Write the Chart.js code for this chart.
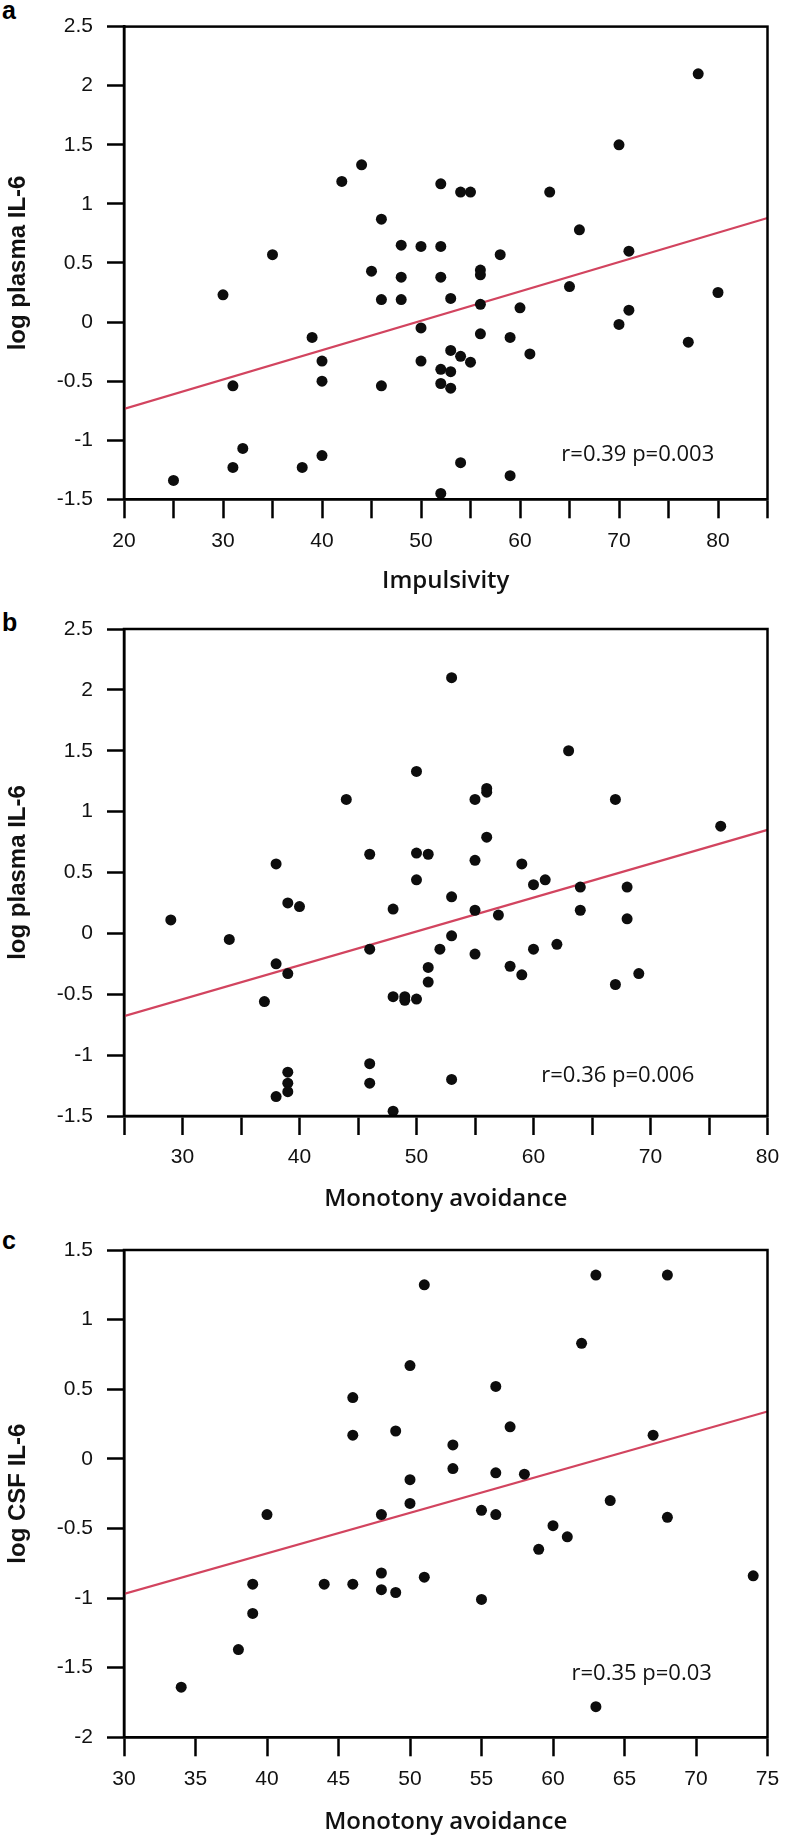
<!DOCTYPE html>
<html>
<head>
<meta charset="utf-8">
<script src="https://cdn.jsdelivr.net/npm/chart.js@4.4.1/dist/chart.umd.min.js"></script>
<style>
  body { margin: 0; background: #fff; width: 792px; height: 1841px; position: relative; overflow: hidden; }
  .wrap { position: absolute; left: 0; width: 792px; }
  .tag { position: absolute; left: 2px; font: bold 25px "Liberation Sans", Arial, sans-serif; line-height: 1; color: #000; }
</style>
</head>
<body>
<div class="tag" style="top:-2px">a</div>
<div class="tag" style="top:610px">b</div>
<div class="tag" style="top:1228px">c</div>
<div class="wrap" style="top:0;height:596px"><canvas id="ca"></canvas></div>
<div class="wrap" style="top:600px;height:614px"><canvas id="cb"></canvas></div>
<div class="wrap" style="top:1220px;height:617px"><canvas id="cc"></canvas></div>
<script>
// panel a: impulsivity vs log plasma IL-6
const aX = [78, 70, 44, 42, 52, 54, 55, 63, 46, 66, 48, 50, 52, 35, 58, 71, 45, 56, 56, 48, 52, 65, 80, 30,
  46, 48, 53, 56, 60, 71, 50, 56, 70, 77, 39, 59, 53, 54, 55, 61, 40, 50, 52, 53, 40, 52, 53, 31, 46,
  32, 31, 38, 40, 54, 59, 25, 52];
const aY = [2.1, 1.5, 1.33, 1.19, 1.17, 1.1, 1.1, 1.1, 0.87, 0.78, 0.65, 0.64, 0.64, 0.57, 0.57, 0.6, 0.43, 0.44, 0.4, 0.38, 0.38, 0.3, 0.25, 0.23,
  0.19, 0.19, 0.2, 0.15, 0.12, 0.1, -0.05, -0.1, -0.02, -0.17, -0.13, -0.13, -0.24, -0.29, -0.34, -0.27, -0.33, -0.33, -0.4, -0.42, -0.5, -0.52, -0.56, -0.54, -0.54,
  -1.07, -1.23, -1.23, -1.13, -1.19, -1.3, -1.34, -1.45];
const aFitX = [20, 85];
const aFitY = [-0.735, 0.88];
const aStat = 'r=0.39 p=0.003';
const aStatAt = [71.9, -1.12];

// panel b: monotony avoidance vs log plasma IL-6
const bX = [53, 63, 50, 44, 55, 56, 56, 67, 76, 56, 46, 50, 51, 38, 55, 59, 50, 60, 61, 64, 68,
  39, 40, 29, 48, 53, 55, 57, 64, 68, 34, 53, 62, 46, 52, 60, 55, 38, 39, 51, 58, 59, 69, 51, 67,
  37, 48, 49, 49, 50, 46, 46, 39, 39, 39, 38, 53, 48];
const bY = [2.1, 1.5, 1.33, 1.1, 1.1, 1.19, 1.16, 1.1, 0.88, 0.79, 0.65, 0.66, 0.65, 0.57, 0.6, 0.57, 0.44, 0.4, 0.44, 0.38, 0.38,
  0.25, 0.22, 0.11, 0.2, 0.3, 0.19, 0.15, 0.19, 0.12, -0.05, -0.02, -0.09, -0.13, -0.13, -0.13, -0.17, -0.25, -0.33, -0.28, -0.27, -0.34, -0.33, -0.4, -0.42,
  -0.56, -0.52, -0.52, -0.55, -0.54, -1.07, -1.23, -1.14, -1.23, -1.3, -1.34, -1.2, -1.46];
const bFitX = [25, 80];
const bFitY = [-0.68, 0.85];
const bStat = 'r=0.36 p=0.006';
const bStatAt = [67.2, -1.17];

// panel c: monotony avoidance vs log CSF IL-6
const cX = [63, 68, 51, 62, 50, 56, 46, 46, 49, 57, 67, 53, 53, 56, 58, 50, 50, 64, 40, 48, 55, 56, 68,
  60, 61, 59, 74, 44, 46, 39, 48, 48, 49, 51, 55, 39, 38, 34, 63];
const cY = [1.32, 1.32, 1.25, 0.83, 0.67, 0.52, 0.44, 0.17, 0.2, 0.23, 0.17, 0.1, -0.07, -0.1, -0.11, -0.15, -0.32, -0.3, -0.4, -0.4, -0.37, -0.4, -0.42,
  -0.48, -0.56, -0.65, -0.84, -0.9, -0.9, -0.9, -0.82, -0.94, -0.96, -0.85, -1.01, -1.11, -1.37, -1.64, -1.78];
const cFitX = [30, 75];
const cFitY = [-0.97, 0.34];
const cStat = 'r=0.35 p=0.03';
const cStatAt = [66.2, -1.54];

const TICKFONT = '"Liberation Sans", Arial, sans-serif';
const TITLEFONT = '"Open Sans", sans-serif';

// box round the plot + the r/p text
const frame = {
  id: 'frame',
  afterDatasetsDraw(chart, args, opts) {
    const { ctx, chartArea: c, scales } = chart;
    ctx.save();
    ctx.strokeStyle = '#000';
    ctx.lineWidth = 2.5;
    ctx.strokeRect(c.left, c.top, c.right - c.left, c.bottom - c.top);
    ctx.font = '22px ' + TITLEFONT;
    ctx.fillStyle = '#111';
    ctx.textAlign = 'center';
    ctx.textBaseline = 'middle';
    ctx.fillText(opts.text, scales.x.getPixelForValue(opts.at[0]), scales.y.getPixelForValue(opts.at[1]));
    ctx.restore();
  }
};

function toPts(xs, ys) {
  return xs.map((x, i) => ({ x: x, y: ys[i] }));
}

function panel(id, p) {
  new Chart(document.getElementById(id), {
    type: 'scatter',
    data: {
      datasets: [
        {
          data: toPts(p.xs, p.ys),
          backgroundColor: '#0d0d0d',
          borderWidth: 0,
          pointRadius: 5.5,
        },
        {
          type: 'line',
          data: toPts(p.fitX, p.fitY),
          borderColor: '#d2445f',
          borderWidth: 2.2,
          pointRadius: 0,
          fill: false,
        }
      ]
    },
    options: {
      responsive: true,
      maintainAspectRatio: false,
      animation: false,
      layout: { padding: { top: p.padTop, right: 24.5, left: 0, bottom: 0 } },
      plugins: {
        legend: { display: false },
        tooltip: { enabled: false },
        frame: { text: p.stat, at: p.statAt }
      },
      scales: {
        x: {
          type: 'linear',
          min: p.xMin, max: p.xMax,
          ticks: {
            stepSize: 5, autoSkip: false, maxRotation: 0, padding: 10,
            color: '#111', font: { family: TICKFONT, size: 21 },
            callback: p.xLabel
          },
          grid: { drawOnChartArea: false, tickLength: 19, tickColor: '#000', tickWidth: 2.5 },
          border: { color: '#000', width: 2.5 },
          title: {
            display: true, text: p.xTitle, color: '#111',
            font: { family: TITLEFONT, size: 24, weight: '600', lineHeight: 1.2 },
            padding: { top: 0, bottom: 0 }
          },
          afterFit(s) { s.height = p.xH; }
        },
        y: {
          min: p.yMin, max: p.yMax,
          ticks: {
            stepSize: 0.5, padding: 14, color: '#111', font: { family: TICKFONT, size: 21 },
            callback: v => String(Number(v.toFixed(1)))
          },
          grid: { drawOnChartArea: false, tickLength: 17, tickColor: '#000', tickWidth: 2.5 },
          border: { color: '#000', width: 2.5 },
          title: {
            display: true, text: p.yTitle, color: '#111',
            font: { family: TICKFONT, size: 24, weight: 'bold', lineHeight: 1.2 },
            padding: { top: 4, bottom: 0 }
          },
          afterFit(s) { s.width = 124; }
        }
      }
    },
    plugins: [frame]
  });
}

panel('ca', {
  xs: aX, ys: aY, fitX: aFitX, fitY: aFitY, stat: aStat, statAt: aStatAt,
  xMin: 20, xMax: 85, yMin: -1.5, yMax: 2.5, padTop: 12, xH: 96.7,
  xLabel: v => (v % 10 === 0 && v <= 80) ? String(v) : '',
  xTitle: 'Impulsivity', yTitle: 'log plasma IL-6'
});
panel('cb', {
  xs: bX, ys: bY, fitX: bFitX, fitY: bFitY, stat: bStat, statAt: bStatAt,
  xMin: 25, xMax: 80, yMin: -1.5, yMax: 2.5, padTop: 29, xH: 98,
  xLabel: v => (v % 10 === 0) ? String(v) : '',
  xTitle: 'Monotony avoidance', yTitle: 'log plasma IL-6'
});
panel('cc', {
  xs: cX, ys: cY, fitX: cFitX, fitY: cFitY, stat: cStat, statAt: cStatAt,
  xMin: 30, xMax: 75, yMin: -2, yMax: 1.5, padTop: 30, xH: 99.7,
  xLabel: v => String(v),
  xTitle: 'Monotony avoidance', yTitle: 'log CSF IL-6'
});
</script>
</body>
</html>
